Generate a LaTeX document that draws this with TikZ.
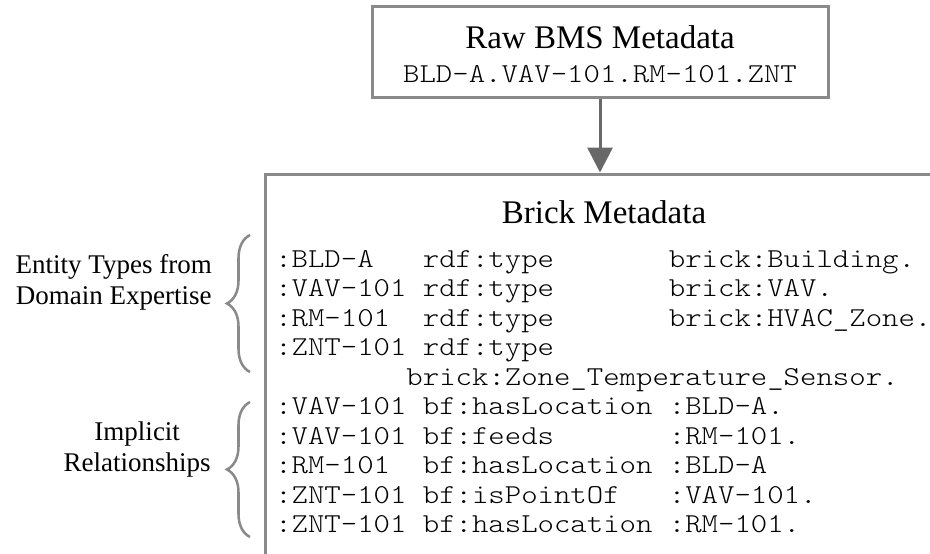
\documentclass[tikz,border=0pt]{standalone}
\usepackage{fontspec}
\setmainfont{Liberation Serif}
\newfontfamily\codefont[FakeStretch=1.143]{lmmonolt10-regular.otf}
\usetikzlibrary{arrows.meta,decorations.pathreplacing,fit}
\definecolor{boxgray}{RGB}{138,138,138}
\definecolor{arrowgray}{RGB}{104,104,104}

\begin{document}
\begin{tikzpicture}[x=0.75pt,y=-0.75pt,
  box/.style={draw=boxgray,line width=2.25pt},
  title/.style={font=\fontsize{24.75}{29}\selectfont},
  code/.style={font=\fontsize{20.5}{24}\codefont,inner sep=0pt},
  side/.style={font=\fontsize{20.25}{23.25}\selectfont,align=center,inner sep=0pt},
  curly/.style={draw=boxgray,line width=1.9pt,decorate,decoration={brace,amplitude=17.25pt}},
  flow/.style={draw=arrowgray,line width=2.25pt,-{Triangle[length=18.75pt,width=18.75pt]}}]

\useasboundingbox (0,0) rectangle (930,553);
\clip (0,0) rectangle (930,553);

% raw metadata
\node[box,minimum width=342pt,minimum height=68.25pt] (raw) at (600,51.5) {};
\node[title] (rawtitle) at (600,37) {Raw BMS Metadata};
\node[code] (rawcode) at (600,74) {BLD-A.VAV-101.RM-101.ZNT};

% brick metadata, box runs off the page
\coordinate (bnw) at (265,174);
\coordinate (bse) at (960,600);
\node[box,fit=(bnw)(bse),inner sep=0pt] (brick) {};
\node[title] (bricktitle) at (604,212) {Brick Metadata};

% arrow
\draw[flow] (raw.south) -- (raw.south |- brick.north);

% triples
\foreach \i/\triple in {
  1/{:BLD-A~~~rdf:type~~~~~~~brick:Building.},
  2/{:VAV-101~rdf:type~~~~~~~brick:VAV.},
  3/{:RM-101~~rdf:type~~~~~~~brick:HVAC\_Zone.},
  4/{:ZNT-101~rdf:type},
  5/{~~~~~~~~brick:Zone\_Temperature\_Sensor.},
  6/{:VAV-101~bf:hasLocation~:BLD-A.},
  7/{:VAV-101~bf:feeds~~~~~~~:RM-101.},
  8/{:RM-101~~bf:hasLocation~:BLD-A},
  9/{:ZNT-101~bf:isPointOf~~~:VAV-101.},
  10/{:ZNT-101~bf:hasLocation~:RM-101.}}
  \node[code,anchor=base west] (row\i) at (275,{267+(\i-1)*29.5}) {\triple};

% braces
\draw[curly] (250,372) -- (250,235);
\draw[curly] (250,537) -- (250,402);
\node[side,anchor=east] (enttypes) at (212,282.5) {Entity Types from\\Domain Expertise};
\node[side,anchor=east] (implrel) at (211,449) {Implicit\\Relationships};

\end{tikzpicture}
\end{document}
